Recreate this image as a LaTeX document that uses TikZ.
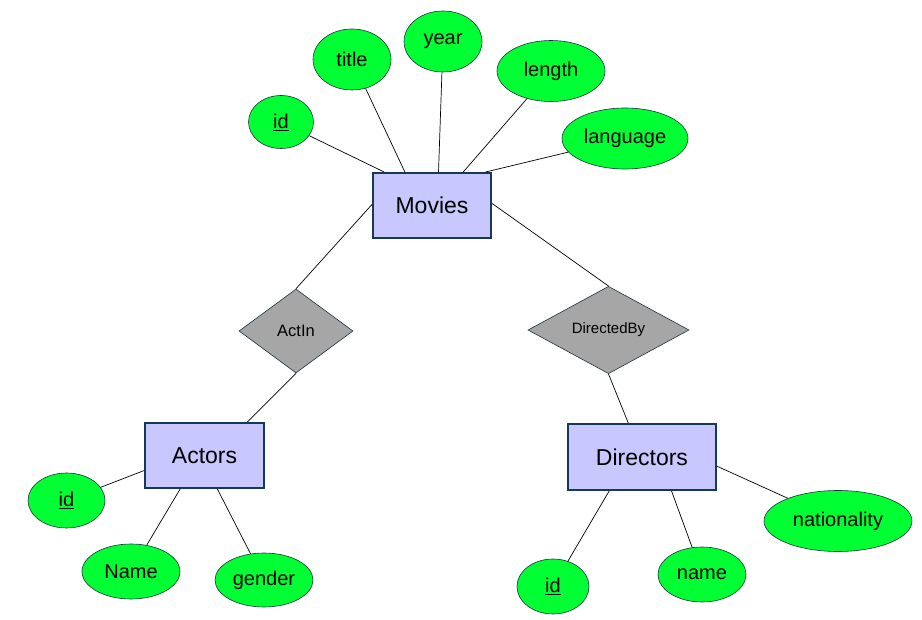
\documentclass[tikz,border=0pt]{standalone}
\usepackage{fontspec}
\setmainfont{Liberation Sans}
\usetikzlibrary{shapes.geometric}

\definecolor{attrgreen}{RGB}{0,255,51}
\definecolor{entfill}{RGB}{200,200,255}
\definecolor{entline}{RGB}{22,58,84}
\definecolor{relfill}{RGB}{166,166,166}
\definecolor{thinline}{RGB}{30,50,60}

\tikzset{
  entity/.style={draw=entline, line width=2pt, fill=entfill, inner sep=0pt,
    font=\fontsize{23}{26}\selectfont},
  attr/.style={ellipse, draw=thinline, line width=0.6pt, fill=attrgreen, inner sep=0pt,
    font=\fontsize{20}{24}\selectfont},
  rel/.style={diamond, draw=thinline, line width=0.6pt, fill=relfill, inner sep=0pt},
  link/.style={draw=black, line width=0.7pt}
}

\begin{document}
\begin{tikzpicture}[x=1pt,y=-1pt]

    \useasboundingbox (0,0) rectangle (922,620);

    % draw entities
    \node[entity, minimum width=118, minimum height=65] (movies) at (432,205.5) {Movies};
    \node[entity, minimum width=119, minimum height=65] (actors) at (204.5,455.5) {Actors};
    \node[entity, minimum width=148, minimum height=66] (directors) at (642,457) {Directors};

    % draw relationships
    \node[rel, minimum width=114, minimum height=84, font=\fontsize{16.5}{19}\selectfont] (actin) at (296,331) {ActIn};
    \node[rel, minimum width=161, minimum height=86, font=\fontsize{15}{18}\selectfont] (dirby) at (608.5,330) {DirectedBy};

    % attributes of movies
    \node[attr, minimum width=65, minimum height=53] (mid) at (281,122) {\underline{id}};
    \node[attr, minimum width=78, minimum height=61] (mtitle) at (352,59.5) {title};
    \node[attr, minimum width=78, minimum height=61] (myear) at (443,41.5) {year};
    \node[attr, minimum width=108, minimum height=61] (mlength) at (551,71) {length};
    \node[attr, minimum width=126, minimum height=61] (mlang) at (625,138.5) {language};

    % attributes of actors
    \node[attr, minimum width=77, minimum height=55] (aid) at (66.5,500.5) {\underline{id}};
    \node[attr, minimum width=98, minimum height=55] (aname) at (131,571.5) {Name};
    \node[attr, minimum width=98, minimum height=54] (agender) at (264,580) {gender};

    % attributes of directors
    \node[attr, minimum width=72, minimum height=55] (did) at (553,586.5) {\underline{id}};
    \node[attr, minimum width=88, minimum height=55] (dname) at (702,574.5) {name};
    \node[attr, minimum width=148, minimum height=61] (dnat) at (838,521) {nationality};

    % attribute links
    \foreach \a/\b in {mid/movies.145, mtitle/movies.129, myear/movies.79, mlength/movies.47,
        mlang/movies.32, aid/actors.194, aname/actors.234, agender/actors.291,
        did/directors.226, dname/directors.311, dnat/directors.353}
      \draw[link] (\a) -- (\b);

    % relationship links
    \draw[link] (movies.179) -- (actin.north);
    \draw[link] (actin.south) -- (actors.38);
    \draw[link] (movies.2) -- (dirby.north);
    \draw[link] (dirby.south) -- (directors.112);

\end{tikzpicture}
\end{document}
